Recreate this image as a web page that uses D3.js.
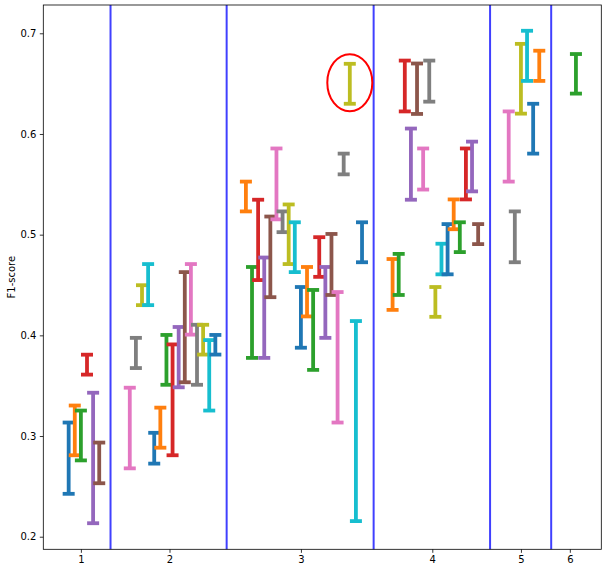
<!DOCTYPE html>
<html>
<head>
<meta charset="utf-8">
<script src="https://cdn.jsdelivr.net/npm/d3@7"></script>
<style>
  html, body { margin: 0; padding: 0; background: #fff; }
  svg { display: block; }
  text { font-family: "DejaVu Sans", sans-serif; }
</style>
</head>
<body>
<svg id="chart" width="607" height="572"></svg>
<script>
// ---- data ----
const tickLabels = ["1", "2", "3", "4", "5", "6"];
const tickPositions = [2, 16.5, 38, 59.5, 74, 82];
const groupStarts = [0, 10, 29, 53, 72, 83];
const groupSizes = [6, 15, 20, 15, 6, 1];
const separators = [6.85, 25.85, 49.9, 68.95, 78.95];

const lows = [
  0.2426, 0.2809, 0.2758, 0.3610, 0.2134, 0.2531,
  0.2679, 0.3675, 0.4300, 0.4300, 0.2726, 0.2884, 0.3509, 0.2809, 0.3484, 0.3534, 0.4007, 0.3509, 0.3809, 0.3253, 0.3809,
  0.5231, 0.3776, 0.4549, 0.3776, 0.4379, 0.5152, 0.5025, 0.4708, 0.4628, 0.3877, 0.4188, 0.3657, 0.4581, 0.3975, 0.4401, 0.3134, 0.5599, 0.6300, 0.2155, 0.4726,
  0.4253, 0.4401, 0.6224, 0.5347, 0.6199, 0.5448, 0.6321, 0.4184, 0.4606, 0.4606, 0.5054, 0.4827, 0.5350, 0.5430, 0.4906,
  0.5527, 0.4726, 0.6202, 0.6527, 0.5805, 0.6527,
  0.6401
];
const highs = [
  0.3134, 0.3303, 0.3253, 0.3808, 0.3430, 0.2935,
  0.3480, 0.3975, 0.4498, 0.4708, 0.3032, 0.3282, 0.4004, 0.3910, 0.4083, 0.4628, 0.4708, 0.4105, 0.4105, 0.3953, 0.4004,
  0.5527, 0.4679, 0.5347, 0.4773, 0.5180, 0.5856, 0.5231, 0.5300, 0.5123, 0.4480, 0.4679, 0.4451, 0.4975, 0.4679, 0.5007, 0.4430, 0.5805, 0.6697, 0.4142, 0.5123,
  0.4758, 0.4809, 0.6729, 0.6054, 0.6700, 0.5856, 0.6729, 0.4480, 0.4910, 0.5105, 0.5350, 0.5123, 0.5856, 0.5924, 0.5105,
  0.6224, 0.5231, 0.6895, 0.7025, 0.6300, 0.6827,
  0.6794
];
const yTicks = [0.2, 0.3, 0.4, 0.5, 0.6, 0.7];
const highlightIndex = 38;          // bar circled in red
const highlightValue = 0.651;

const palette = ["#1f77b4", "#ff7f0e", "#2ca02c", "#d62728", "#9467bd",
                 "#8c564b", "#e377c2", "#7f7f7f", "#bcbd22", "#17becf"];

// ---- build bar table ----
const bars = [];
groupStarts.forEach((s, g) => {
  for (let i = 0; i < groupSizes[g]; i++) {
    const idx = bars.length;
    bars.push({ x: s + i, lo: lows[idx], hi: highs[idx], color: palette[idx % 10] });
  }
});

// ---- layout ----
const L = 43.3, R = 601.3, T = 5, B = 549.3;
const svg = d3.select("#chart");
const x = d3.scaleLinear().domain([-4.15, 87.15]).range([L, R]);
const y = d3.scaleLinear().domain([0.1875, 0.7281]).range([B, T]);

// separators
svg.append("g").selectAll("line").data(separators).join("line")
  .attr("x1", d => x(d)).attr("x2", d => x(d))
  .attr("y1", T).attr("y2", B)
  .attr("stroke", "rgba(0,0,255,0.75)").attr("stroke-width", 2);

// error bars
const capHalf = 6, lw = 3.8;
const gBars = svg.append("g");
bars.forEach(b => {
  const g = gBars.append("g");
  g.append("line")
    .attr("x1", x(b.x)).attr("x2", x(b.x))
    .attr("y1", y(b.hi)).attr("y2", y(b.lo))
    .attr("stroke", b.color).attr("stroke-width", lw);
  [b.hi, b.lo].forEach(v => {
    g.append("line")
      .attr("x1", x(b.x) - capHalf).attr("x2", x(b.x) + capHalf)
      .attr("y1", y(v)).attr("y2", y(v))
      .attr("stroke", b.color).attr("stroke-width", lw);
  });
});

// highlight ellipse
svg.append("ellipse")
  .attr("cx", x(bars[highlightIndex].x))
  .attr("cy", y(highlightValue))
  .attr("rx", 22.5).attr("ry", 28.5)
  .attr("fill", "none").attr("stroke", "#ff0000").attr("stroke-width", 2);

// axes
const xAxis = d3.axisBottom(x).tickValues(tickPositions)
  .tickFormat((d, i) => tickLabels[i]).tickSize(3.5).tickPadding(3.5);
const yAxis = d3.axisLeft(y).tickValues(yTicks)
  .tickFormat(d3.format(".1f")).tickSize(3.5).tickPadding(3.5);

const gx = svg.append("g").attr("transform", `translate(0,${B})`).call(xAxis);
const gy = svg.append("g").attr("transform", `translate(${L},0)`).call(yAxis);
[gx, gy].forEach(g => {
  g.select(".domain").remove();
  g.selectAll(".tick line").attr("stroke", "#000").attr("stroke-width", 0.8);
  g.selectAll(".tick text").attr("fill", "#000").style("font-size", "10px")
    .style("font-family", "'DejaVu Sans', sans-serif");
});

// frame
svg.append("rect")
  .attr("x", L).attr("y", T).attr("width", R - L).attr("height", B - T)
  .attr("fill", "none").attr("stroke", "#000").attr("stroke-width", 0.8);

// y label
svg.append("text")
  .attr("transform", `translate(15,${(T + B) / 2}) rotate(-90)`)
  .attr("text-anchor", "middle")
  .style("font-size", "10px")
  .text("F1-score");
</script>
</body>
</html>
